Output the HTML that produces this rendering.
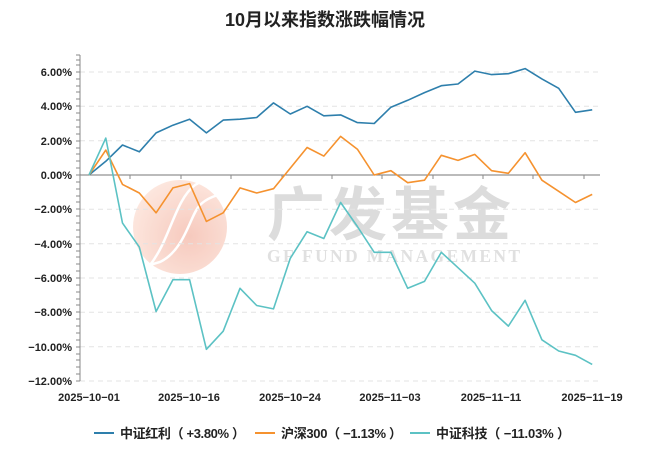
<!DOCTYPE html>
<html><head><meta charset="utf-8"><style>
html,body{margin:0;padding:0;background:#fff;}
svg{display:block;font-family:"Liberation Sans","Noto Sans CJK SC",sans-serif;}
</style></head><body>
<svg width="650" height="452" viewBox="0 0 650 452" xmlns="http://www.w3.org/2000/svg">
<defs>
<radialGradient id="g" cx="0.6" cy="0.6" r="0.7">
<stop offset="0" stop-color="#f4b8a8"/><stop offset="1" stop-color="#fde3d8"/>
</radialGradient>
</defs>
<text x="325" y="26" text-anchor="middle" font-size="18" font-weight="bold" fill="#222">10月以来指数涨跌幅情况</text>
<g opacity="0.75">
<circle cx="180" cy="227" r="47" fill="url(#g)"/>
<path d="M150 265 C170 240,175 200,195 185 C210 175,235 180,250 178 C240 195,215 190,200 205 C190 215,185 250,160 262 Z" fill="none" stroke="#fff" stroke-width="2.5"/>
</g>
<text x="267" y="235" font-size="58" font-weight="bold" fill="#dcdcdc" letter-spacing="4" font-family="Noto Sans CJK SC, sans-serif">广发基金</text>
<text x="267" y="262" font-size="17.5" font-weight="bold" fill="#e0e0e0" font-family="Liberation Serif, serif" textLength="253">GF FUND MANAGEMENT</text>
<g stroke="#e3e3e3" stroke-dasharray="5,4" stroke-width="1">
<line x1="80" x2="600" y1="72" y2="72"/><line x1="80" x2="600" y1="106.3" y2="106.3"/>
<line x1="80" x2="600" y1="140.7" y2="140.7"/><line x1="80" x2="600" y1="209.3" y2="209.3"/>
<line x1="80" x2="600" y1="243.7" y2="243.7"/><line x1="80" x2="600" y1="278" y2="278"/>
<line x1="80" x2="600" y1="312.3" y2="312.3"/><line x1="80" x2="600" y1="346.7" y2="346.7"/>
<line x1="80" x2="600" y1="381" y2="381"/>
</g>
<line x1="80" y1="55" x2="80" y2="381" stroke="#888" stroke-width="1"/>
<line x1="80" y1="175" x2="600" y2="175" stroke="#777" stroke-width="1"/>
<g stroke="#888" stroke-width="1">
<path d="M80 175v4M130 175v4M181 175v4M231 175v4M282 175v4M332 175v4M382 175v4M433 175v4M483 175v4M533 175v4M584 175v4"/>
<path d="M76 55h4M76 60h4M76 65h4M76 72h4M76 79h4M76 86h4M76 92h4M76 99h4M76 106h4M76 113h4M76 120h4M76 127h4M76 134h4M76 141h4M76 148h4M76 154h4M76 161h4M76 168h4M76 175h4M76 182h4M76 189h4M76 196h4M76 202h4M76 209h4M76 216h4M76 223h4M76 230h4M76 237h4M76 244h4M76 251h4M76 257h4M76 264h4M76 271h4M76 278h4M76 285h4M76 292h4M76 299h4M76 305h4M76 312h4M76 319h4M76 326h4M76 333h4M76 340h4M76 347h4M76 354h4M76 360h4M76 367h4M76 374h4M76 381h4"/>
</g>
<g font-size="11" font-weight="bold" fill="#222" text-anchor="end">
<text x="72" y="76">6.00%</text><text x="72" y="110">4.00%</text><text x="72" y="145">2.00%</text>
<text x="72" y="179">0.00%</text><text x="72" y="213">−2.00%</text><text x="72" y="248">−4.00%</text>
<text x="72" y="282">−6.00%</text><text x="72" y="316">−8.00%</text><text x="72" y="351">−10.00%</text>
<text x="72" y="385">−12.00%</text>
</g>
<g font-size="11" font-weight="bold" fill="#222" text-anchor="middle">
<text x="89" y="401">2025−10−01</text><text x="189" y="401">2025−10−16</text><text x="290" y="401">2025−10−24</text>
<text x="390" y="401">2025−11−03</text><text x="491" y="401">2025−11−11</text><text x="592" y="401">2025−11−19</text>
</g>
<g fill="none" stroke-width="1.6" stroke-linejoin="round">
<polyline stroke="#2e7fac" points="89,175 105.8,161.3 122.5,145 139.3,151.8 156.1,132.9 172.9,125.2 189.6,119.2 206.4,132.9 223.2,120.1 240,119.2 256.7,117.5 273.5,102.9 290.3,114 307.1,106.3 323.8,115.8 340.6,114.9 357.4,122.6 374.2,123.5 390.9,107.2 407.7,100.3 424.5,92.6 441.3,85.7 458,84 474.8,71.1 491.6,74.6 508.4,73.7 525.1,68.6 541.9,78.9 558.7,88.3 575.5,112.3 592.2,109.8"/>
<polyline stroke="#f5922f" points="89,175 105.8,150.1 122.5,184.4 139.3,193 156.1,212.8 172.9,187.9 189.6,183.6 206.4,221.4 223.2,212.8 240,187.9 256.7,193 273.5,188.7 290.3,168.1 307.1,147.5 323.8,156.1 340.6,136.4 357.4,149.2 374.2,175 390.9,170.7 407.7,182.7 424.5,180.2 441.3,155.3 458,160.4 474.8,154.4 491.6,170.7 508.4,173.3 525.1,152.7 541.9,180.2 558.7,191.3 575.5,202.5 592.2,194.4"/>
<polyline stroke="#5cc2c4" points="89,175 105.8,138.1 122.5,223.1 139.3,247.1 156.1,311.5 172.9,279.7 189.6,279.7 206.4,349.3 223.2,331.2 240,288.3 256.7,305.5 273.5,308.9 290.3,258.3 307.1,231.7 323.8,238.5 340.6,202.5 357.4,226.5 374.2,252.3 390.9,252.3 407.7,288.3 424.5,281.4 441.3,252.3 458,267.7 474.8,283.2 491.6,310.6 508.4,326.1 525.1,300.3 541.9,339.8 558.7,351 575.5,355.3 592.2,364.4"/>
</g>
<g font-size="13" font-weight="bold" fill="#222">
<line x1="94" x2="114" y1="433" y2="433" stroke="#2e7fac" stroke-width="2"/>
<text x="120" y="438" textLength="125">中证红利（ +3.80% ）</text>
<line x1="255" x2="275" y1="433" y2="433" stroke="#f5922f" stroke-width="2"/>
<text x="281" y="438" textLength="121">沪深300（ −1.13% ）</text>
<line x1="410" x2="430" y1="433" y2="433" stroke="#5cc2c4" stroke-width="2"/>
<text x="436" y="438" textLength="134">中证科技（ −11.03% ）</text>
</g>
</svg>
</body></html>
